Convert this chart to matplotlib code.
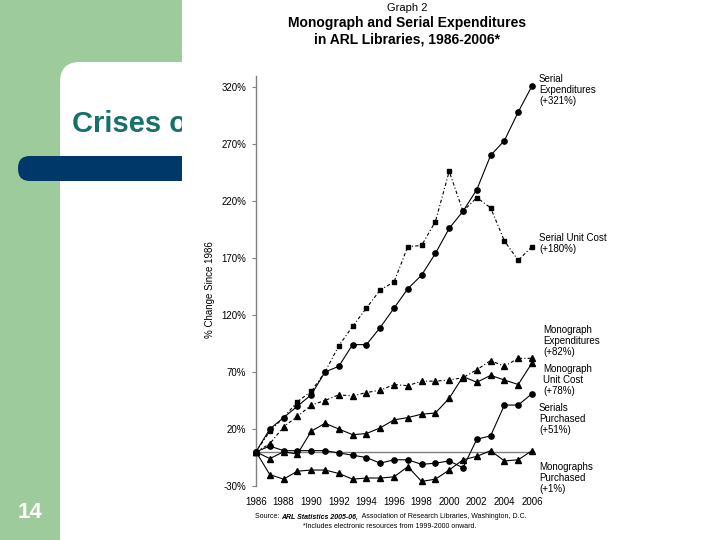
import matplotlib
matplotlib.use("Agg")
import matplotlib.pyplot as plt
from matplotlib.patches import FancyBboxPatch, Rectangle

plt.rcParams['font.family'] = ['Liberation Sans', 'DejaVu Sans']

years = list(range(1986, 2007))
serial_exp = [0, 20, 30, 40, 50, 70, 75, 94, 94, 109, 126, 143, 155, 174, 196, 211, 230, 260, 273, 298, 321]
serial_unit_cost = [0, 18, 30, 44, 53, 70, 93, 110, 126, 142, 149, 180, 181, 202, 246, 211, 223, 214, 185, 168, 180]
mono_exp = [0, 7, 22, 31, 41, 45, 50, 49, 52, 54, 59, 58, 62, 62, 63, 65, 72, 80, 75, 82, 82]
mono_unit_cost = [0, -6, 0, -2, 18, 25, 20, 15, 16, 21, 28, 30, 33, 34, 47, 66, 61, 67, 63, 59, 78]
serials_purchased = [0, 5, 1, 1, 1, 1, -1, -3, -5, -10, -7, -7, -11, -10, -8, -14, 11, 14, 41, 41, 51]
monos_purchased = [0, -20, -24, -17, -16, -16, -19, -24, -23, -23, -22, -13, -26, -24, -16, -7, -4, 1, -8, -7, 1]

xtick_years = list(range(1986, 2007, 2))
ytick_vals = [-30, 20, 70, 120, 170, 220, 270, 320]

series_labels = [
    ("Serial\nExpenditures\n(+321%)", 539, 74),
    ("Serial Unit Cost\n(+180%)", 539, 233),
    ("Monograph\nExpenditures\n(+82%)", 543, 325),
    ("Monograph\nUnit Cost\n(+78%)", 543, 364),
    ("Serials\nPurchased\n(+51%)", 539, 403),
    ("Monographs\nPurchased\n(+1%)", 539, 462),
]

W, H = 720, 540
green = "#9dcb9b"
navy = "#00386a"
teal = "#17706b"

fig = plt.figure(figsize=(7.2, 5.4), dpi=100, facecolor=green)

# slide background drawn in pixel coordinates (y from top)
bg = fig.add_axes([0, 0, 1, 1], zorder=0)
bg.set_xlim(0, W)
bg.set_ylim(H, 0)
bg.axis("off")
bg.add_patch(FancyBboxPatch((60, 62), 720, 540, boxstyle="round,pad=0,rounding_size=20",
                            facecolor="white", edgecolor="none", zorder=1))
bg.add_patch(FancyBboxPatch((18, 156), 400, 25, boxstyle="round,pad=0,rounding_size=12",
                            facecolor=navy, edgecolor="none", zorder=2))
bg.text(72, 124, "Crises of", color=teal, fontsize=21, fontweight="bold",
        va="center", ha="left", zorder=3)
bg.text(30, 512, "14", color="white", fontsize=16, fontweight="bold",
        va="center", ha="center", zorder=3)
# pasted chart image area
bg.add_patch(Rectangle((182, 0), W - 182, H, facecolor="white", edgecolor="none", zorder=5))

# chart titles and notes
bg.text(407, 8, "Graph 2", fontsize=8, ha="center", va="center", zorder=6)
bg.text(407, 31, "Monograph and Serial Expenditures\nin ARL Libraries, 1986-2006*", fontsize=10,
        fontweight="bold", ha="center", va="center", linespacing=1.25, zorder=6)
bg.text(210, 290, "% Change Since 1986", fontsize=7, rotation=90, ha="center", va="center", zorder=6)

# source line built from pieces placed one after another
t1 = bg.text(255, 517, "Source: ", fontsize=5, ha="left", va="center", zorder=6)
t2 = bg.annotate("ARL Statistics 2005-06,", xy=(1, 0.5), xycoords=t1, fontsize=5,
                 fontstyle="italic", fontweight="bold", ha="left", va="center", zorder=6)
bg.annotate("  Association of Research Libraries, Washington, D.C.", xy=(1, 0.5), xycoords=t2,
            fontsize=5, ha="left", va="center", zorder=6)
bg.text(390, 527, "*Includes electronic resources from 1999-2000 onward.", fontsize=5,
        ha="center", va="center", zorder=6)
for text, x, y in series_labels:
    bg.text(x, y, text, fontsize=7, ha="left", va="top", linespacing=1.15, zorder=6)

# main chart axes
ax = fig.add_axes([256 / W, (H - 486) / H, 276 / W, (486 - 75.6) / H], zorder=2)
ax.patch.set_alpha(0)
ax.set_xlim(1986, 2006)
ax.set_ylim(-30, 330)

ax.axhline(0, color="#808080", lw=1.0, zorder=1)
ms = 3.8
ax.plot(years, serial_exp, color="black", lw=0.8, marker="o", ms=ms, clip_on=False, zorder=3)
ax.plot(years, serial_unit_cost, color="black", lw=0.8, ls=(0, (3, 2, 1, 2)), marker="s", ms=ms - 0.6,
        clip_on=False, zorder=3)
ax.plot(years, mono_exp, color="black", lw=0.8, ls=(0, (3, 2, 1, 2)), marker="^", ms=ms, clip_on=False, zorder=3)
ax.plot(years, mono_unit_cost, color="black", lw=0.8, marker="^", ms=ms, clip_on=False, zorder=3)
ax.plot(years, serials_purchased, color="black", lw=0.8, marker="o", ms=ms, clip_on=False, zorder=3)
ax.plot(years, monos_purchased, color="black", lw=0.8, marker="^", ms=ms, clip_on=False, zorder=3)

for s in ["top", "right", "bottom"]:
    ax.spines[s].set_visible(False)
ax.spines["left"].set_color("#808080")
ax.spines["left"].set_linewidth(1.0)
ax.set_yticks(ytick_vals)
ax.set_yticklabels([f"{v}%" for v in ytick_vals], fontsize=7)
ax.tick_params(axis="y", length=3, color="#808080", pad=4)
ax.set_xticks(xtick_years)
ax.set_xticklabels([str(y) for y in xtick_years], fontsize=7)
ax.tick_params(axis="x", length=0, pad=8)

fig.savefig("out.png", dpi=100, facecolor=green)
